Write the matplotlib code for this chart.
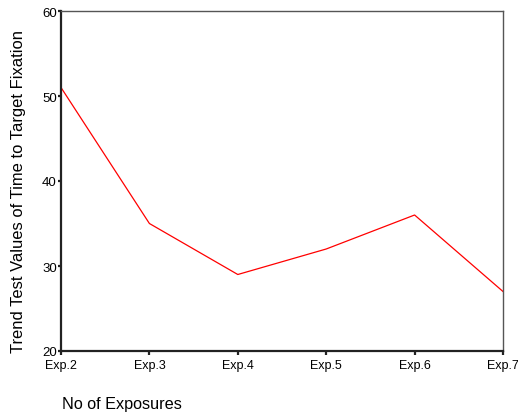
import matplotlib
matplotlib.use("Agg")
import matplotlib.pyplot as plt

plt.rcParams['font.family'] = ['Liberation Sans', 'DejaVu Sans']

exposures = ["Exp.2", "Exp.3", "Exp.4", "Exp.5", "Exp.6", "Exp.7"]
trend_values = [51, 35, 29, 32, 36, 27]
y_ticks = [20, 30, 40, 50, 60]

fig = plt.figure(figsize=(5.18, 4.14), dpi=100)
ax = fig.add_axes([61 / 518, 62 / 414, 442 / 518, 340 / 414])

x = list(range(len(exposures)))
ax.plot(x, trend_values, color="#ff0000", linewidth=0.9)

ax.set_xlim(0, len(exposures) - 1)
ax.set_ylim(20, 60)
ax.set_xticks(x)
ax.set_xticklabels(exposures, fontsize=9)
ax.set_yticks(y_ticks)
ax.set_yticklabels([str(v) for v in y_ticks], fontsize=9.5)

for side in ("left", "bottom"):
    ax.spines[side].set_linewidth(1.6)
    ax.spines[side].set_color("#222222")
for side in ("top", "right"):
    ax.spines[side].set_linewidth(1.0)
    ax.spines[side].set_color("#555555")

ax.tick_params(axis="x", direction="out", length=3, width=1.6, pad=3, color="#222222")
ax.tick_params(axis="y", direction="out", length=2, width=1.6, pad=1, color="#222222")

ax.set_ylabel("Trend Test Values of Time to Target Fixation", fontsize=11.9,
              va="center")
ax.yaxis.set_label_coords(-0.097, 0.4735)
fig.text(62 / 518, 1 - 405 / 414, "No of Exposures", fontsize=11.7, ha="left", va="center")

fig.savefig("out.png", dpi=100)
